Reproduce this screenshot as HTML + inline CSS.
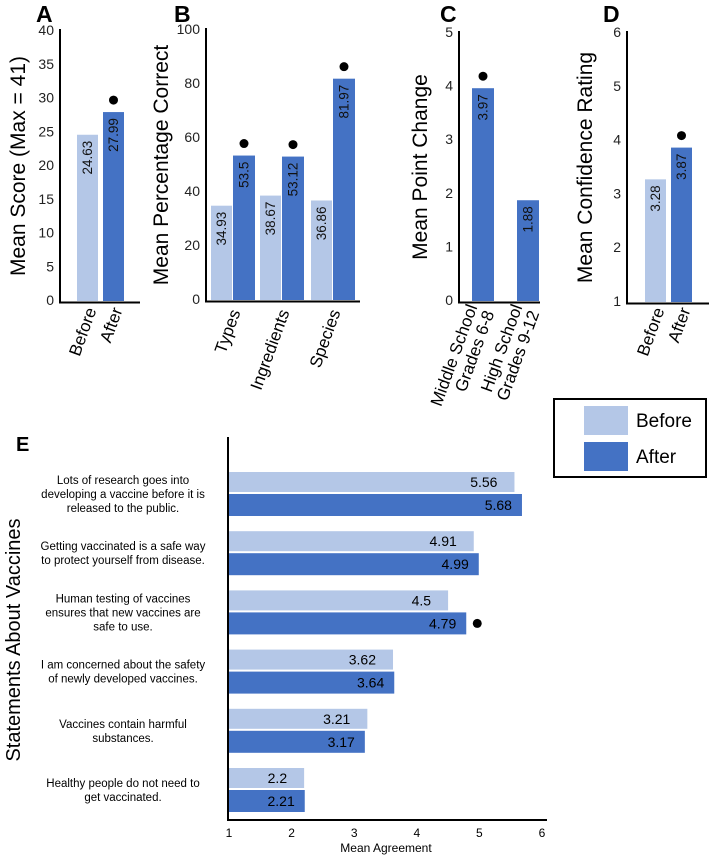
<!DOCTYPE html>
<html><head><meta charset="utf-8"><style>
html,body{margin:0;padding:0;background:#fff;}
svg{display:block;font-family:"Liberation Sans",Arial,sans-serif;}
</style></head><body>
<svg id="fig" width="709" height="858" viewBox="0 0 709 858" xmlns="http://www.w3.org/2000/svg"></svg>
<script>
// Panel A
const aCats = ["Before", "After"];
const aVals = [24.63, 27.99];
const aSig = [false, true];
const aTicks = [0, 5, 10, 15, 20, 25, 30, 35, 40];
// Panel B
const bCats = ["Types", "Ingredients", "Species"];
const bBefore = [34.93, 38.67, 36.86];
const bAfter = [53.5, 53.12, 81.97];
const bSig = [true, true, true];
const bTicks = [0, 20, 40, 60, 80, 100];
// Panel C
const cCats = [["Middle School", "Grades 6-8"], ["High School", "Grades 9-12"]];
const cVals = [3.97, 1.88];
const cSig = [true, false];
const cTicks = [0, 1, 2, 3, 4, 5];
// Panel D
const dCats = ["Before", "After"];
const dVals = [3.28, 3.87];
const dSig = [false, true];
const dTicks = [1, 2, 3, 4, 5, 6];
// Panel E
const eStatements = [
  ["Lots of research goes into", "developing a vaccine before it is", "released to the public."],
  ["Getting vaccinated is a safe way", "to protect yourself from disease."],
  ["Human testing of vaccines", "ensures that new vaccines are", "safe to use."],
  ["I am concerned about the safety", "of newly developed vaccines."],
  ["Vaccines contain harmful", "substances."],
  ["Healthy people do not need to", "get vaccinated."]
];
const eBefore = [5.56, 4.91, 4.5, 3.62, 3.21, 2.2];
const eAfter = [5.68, 4.99, 4.79, 3.64, 3.17, 2.21];
const eSig = [false, false, true, false, false, false];
const eTicks = [1, 2, 3, 4, 5, 6];

const LIGHT = "#b4c7e7", DARK = "#4472c4";
const svg = document.getElementById("fig");
const NS = "http://www.w3.org/2000/svg";
function mk(tag, attrs, parent, text) {
  const e = document.createElementNS(NS, tag);
  for (const k in attrs) e.setAttribute(k, attrs[k]);
  if (text !== undefined) e.textContent = text;
  (parent || svg).appendChild(e);
  return e;
}
function lin(d0, d1, r0, r1) { return v => r0 + (v - d0) * (r1 - r0) / (d1 - d0); }

function vAxis(g, x, y, ticks, xEnd, title, titleX, letter, letterX) {
  let e;
  e = mk("line", {x1: x, y1: y(ticks[ticks.length - 1]) - 2, x2: x, y2: y(ticks[0]) + 1.5, stroke: "#000", "stroke-width": 2}, g);
   
  e = mk("line", {x1: x - 1, y1: y(ticks[0]) + 1.5, x2: xEnd, y2: y(ticks[0]) + 1.5, stroke: "#000", "stroke-width": 2}, g);
   
  ticks.forEach(t => {
    e = mk("text", {x: x - 6, y: y(t) + 4, "text-anchor": "end", "font-size": 14, fill: "#222"}, g, t);
     
  });
  const cy = (y(ticks[0]) + y(ticks[ticks.length - 1])) / 2;
  e = mk("text", {x: titleX, y: cy, "text-anchor": "middle", "font-size": 21, transform: `rotate(-90 ${titleX} ${cy})`}, g, title);
   
  e = mk("text", {x: letterX, y: 22, "font-size": 23, "font-weight": "bold"}, g, letter);
   
}
function vBar(g, x0, w, val, y, base, color, sig, name) {
  let e = mk("rect", {x: x0, y: y(val), width: w, height: y(base) - y(val), fill: color}, g);
   
  const cx = x0 + w / 2, ty = y(val) + 6;
  e = mk("text", {x: cx, y: ty, "text-anchor": "end", "font-size": 13.5, fill: "#111", transform: `rotate(-90 ${cx} ${ty}) translate(0 4.5)`}, g, val);
   
  if (sig) {
    e = mk("circle", {cx: cx, cy: y(val) - 12, r: 4.5, fill: "#000"}, g);
     
  }
}
function catLabel(g, cx, yTop, lines) {
  const e = mk("text", {x: cx, y: yTop, "text-anchor": "end", "font-size": 17, transform: `rotate(-70 ${cx} ${yTop})`}, g);
   
  lines.forEach((l, i) => {
    mk("tspan", {x: cx, dy: i === 0 ? (lines.length > 1 ? -9 : 6) : 18}, e, l);
  });
}

// Panel A
(function () {
  const g = mk("g", {});  
  const y = lin(0, 40, 301, 31);
  vAxis(g, 60, y, aTicks, 140, "Mean Score (Max = 41)", 25, "A", 36);
  const xs = [77, 103];
  aVals.forEach((v, i) => {
    vBar(g, xs[i], 21, v, y, 0, i === 0 ? LIGHT : DARK, aSig[i], 'bar-' + aCats[i].toLowerCase());
    catLabel(g, xs[i] + 14, 308, [aCats[i]]);
  });
})();
// Panel B
(function () {
  const g = mk("g", {});  
  const y = lin(0, 100, 300, 30);
  vAxis(g, 206, y, bTicks, 360, "Mean Percentage Correct", 168, "B", 174);
  const xs = [211, 260, 311];
  bCats.forEach((c, i) => {
    vBar(g, xs[i], 21, bBefore[i], y, 0, LIGHT, false, 'bar-before-' + c.toLowerCase());
    vBar(g, xs[i] + 22, 22, bAfter[i], y, 0, DARK, bSig[i], 'bar-after-' + c.toLowerCase());
    catLabel(g, xs[i] + 24, 310, [c]);
  });
})();
// Panel C
(function () {
  const g = mk("g", {});  
  const y = lin(0, 5, 301, 33);
  vAxis(g, 459, y, cTicks, 540, "Mean Point Change", 427, "C", 440);
  const xs = [472, 517];
  cVals.forEach((v, i) => {
    vBar(g, xs[i], 22, v, y, 0, DARK, cSig[i], 'bar-grade-group-' + (i + 1));
    catLabel(g, xs[i] + 14, 310, cCats[i]);
  });
})();
// Panel D
(function () {
  const g = mk("g", {});  
  const y = lin(1, 6, 302, 33);
  vAxis(g, 627, y, dTicks, 709, "Mean Confidence Rating", 592, "D", 603);
  const xs = [645, 671];
  dVals.forEach((v, i) => {
    vBar(g, xs[i], 21, v, y, 1, i === 0 ? LIGHT : DARK, dSig[i], 'bar-confidence-' + dCats[i].toLowerCase());
    catLabel(g, xs[i] + 14, 308, [dCats[i]]);
  });
})();
// Legend
(function () {
  const g = mk("g", {});  
  let e = mk("rect", {x: 554, y: 399, width: 152, height: 78, fill: "#fff", stroke: "#000", "stroke-width": 2}, g);
   
  e = mk("rect", {x: 584, y: 406, width: 44, height: 29, fill: LIGHT}, g);
   
  e = mk("rect", {x: 584, y: 442, width: 44, height: 29, fill: DARK}, g);
   
  e = mk("text", {x: 636, y: 427, "font-size": 19}, g, "Before");
   
  e = mk("text", {x: 636, y: 463, "font-size": 19}, g, "After");
   
})();
// Panel E
(function () {
  const g = mk("g", {});  
  const x = lin(1, 6, 229, 542);
  const gy = i => 472 + i * 59.2;
  let e = mk("text", {x: 16, y: 451, "font-size": 20, "font-weight": "bold"}, g, "E");
   
  e = mk("line", {x1: 228, y1: 437, x2: 228, y2: 821, stroke: "#000", "stroke-width": 2}, g);
   
  e = mk("line", {x1: 227, y1: 820, x2: 547, y2: 820, stroke: "#000", "stroke-width": 2}, g);
   
  eTicks.forEach(t => {
    e = mk("text", {x: x(t), y: 837, "text-anchor": "middle", "font-size": 12}, g, t);
     
  });
  e = mk("text", {x: 386, y: 852, "text-anchor": "middle", "font-size": 12}, g, "Mean Agreement");
   
  e = mk("text", {x: 20, y: 640, "text-anchor": "middle", "font-size": 20, transform: "rotate(-90 20 640)"}, g, "Statements About Vaccines");
   
  eStatements.forEach((lines, i) => {
    const y0 = gy(i);
    e = mk("rect", {x: 229, y: y0, width: x(eBefore[i]) - 229, height: 20, fill: LIGHT}, g);
     
    e = mk("rect", {x: 229, y: y0 + 22, width: x(eAfter[i]) - 229, height: 22, fill: DARK}, g);
     
    e = mk("text", {x: x(eBefore[i]) - 17, y: y0 + 15, "text-anchor": "end", "font-size": 14}, g, eBefore[i]);
     
    e = mk("text", {x: x(eAfter[i]) - 10, y: y0 + 38, "text-anchor": "end", "font-size": 14}, g, eAfter[i]);
     
    if (eSig[i]) {
      e = mk("circle", {cx: x(eAfter[i]) + 11, cy: y0 + 33, r: 4.5, fill: "#000"}, g);
       
    }
    const cy = y0 + 22 - (lines.length - 1) * 7 + 4;
    e = mk("text", {x: 123, y: cy, "text-anchor": "middle", "font-size": 11.5}, g);
     
    lines.forEach((l, j) => mk("tspan", {x: 123, dy: j === 0 ? 0 : 14}, e, l));
  });
})();
</script>
</body></html>
